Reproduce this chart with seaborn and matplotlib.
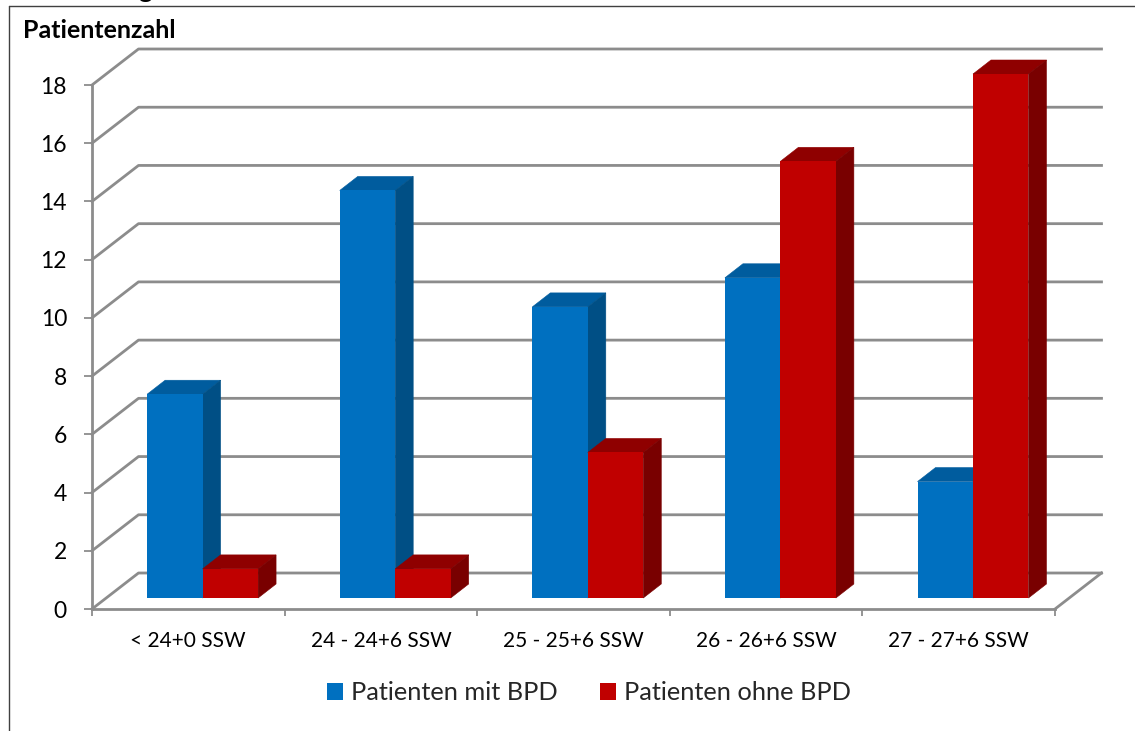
import matplotlib
matplotlib.use("Agg")
import matplotlib.pyplot as plt
from matplotlib.patches import Polygon
import pandas as pd
import seaborn as sns

# Patient counts per gestational-age group
groups = ["< 24+0 SSW", "24 - 24+6 SSW", "25 - 25+6 SSW", "26 - 26+6 SSW", "27 - 27+6 SSW"]
with_bpd = [7, 14, 10, 11, 4]
without_bpd = [1, 1, 5, 15, 18]
series_names = ["Patienten mit BPD", "Patienten ohne BPD"]
y_ticks = list(range(0, 20, 2))

front_colors = ["#0070C0", "#C00000"]
top_colors = ["#005C9E", "#8F0000"]
side_colors = ["#004F85", "#790000"]
grid_color = "#8C8C8C"
text_font = ["Lato", "DejaVu Sans"]

W, H = 1135, 731
sns.set_theme(style="white")
plt.rcParams["font.family"] = text_font
fig = plt.figure(figsize=(W / 100, H / 100), dpi=100, facecolor="white")


def axes_box(left, right, bottom, top):
    """Axes rectangle from pixel edges, measured from the top-left corner."""
    return [left / W, 1 - bottom / H, (right - left) / W, (bottom - top) / H]


# Front plane of the pseudo-3D chart: carries axis line, ticks and labels
ax = fig.add_axes(axes_box(92, 1055, 609, 85))
ax.set_xlim(-0.5, 4.5)
ax.set_ylim(0, 18)
ax.patch.set_alpha(0)
unit_x = 963 / 5
unit_y = 524 / 18

# Back wall and the connecting floor/wall lines
wall_dx = 46.5 / unit_x
wall_dy = 36 / unit_y
line_style = dict(color=grid_color, lw=2.0, clip_on=False, solid_capstyle="projecting")
for v in y_ticks:
    ax.plot([-0.5, -0.5 + wall_dx, 4.5 + wall_dx],
            [v, v + wall_dy, v + wall_dy], **line_style)
ax.plot([4.5, 4.5 + wall_dx], [0, wall_dy], **line_style)

for name in ("top", "right"):
    ax.spines[name].set_visible(False)
for name in ("left", "bottom"):
    ax.spines[name].set_color(grid_color)
    ax.spines[name].set_linewidth(2.0)

ax.set_yticks(y_ticks)
ax.set_xticks(range(len(groups)))
ax.set_xticklabels(groups, fontsize=15)
ax.set_xticks([i - 0.5 for i in range(len(groups) + 1)], minor=True)
ax.tick_params(axis="x", which="major", length=0, pad=16, colors="black")
ax.tick_params(axis="x", which="minor", length=5, width=1.3, color=grid_color, bottom=True)
ax.tick_params(axis="y", length=6, width=1.3, color=grid_color, left=True,
               labelsize=16.5, pad=12, labelcolor="black")
for lab in ax.get_yticklabels():
    lab.set_fontfamily(text_font)
ax.set_xlabel("")
ax.set_ylabel("")

# Bars stand slightly behind the front plane
bar_ax = fig.add_axes(axes_box(106.3, 1069.3, 598, 74))
bar_ax.patch.set_alpha(0)
df = pd.DataFrame({
    "Gruppe": groups * 2,
    "Patienten": with_bpd + without_bpd,
    "Status": [series_names[0]] * len(groups) + [series_names[1]] * len(groups),
})
sns.barplot(data=df, x="Gruppe", y="Patienten", hue="Status", hue_order=series_names,
            palette=front_colors, saturation=1, width=0.576, gap=0, linewidth=0, ax=bar_ax)
bar_ax.set_xlim(-0.5, 4.5)
bar_ax.set_ylim(0, 18)

# Extrude every bar: top and side faces are derived from its rectangle
depth_x = 18 / unit_x
depth_y = 14 / unit_y
order = 3
for s, container in enumerate(bar_ax.containers):
    for rect in container:
        x0, w, h = rect.get_x(), rect.get_width(), rect.get_height()
        x1 = x0 + w
        top = Polygon([(x0, h), (x1, h), (x1 + depth_x, h + depth_y), (x0 + depth_x, h + depth_y)],
                      closed=True, fc=top_colors[s], ec=top_colors[s], lw=0.4,
                      clip_on=False, zorder=order)
        side = Polygon([(x1, 0), (x1 + depth_x, depth_y), (x1 + depth_x, h + depth_y), (x1, h)],
                       closed=True, fc=side_colors[s], ec=side_colors[s], lw=0.4,
                       clip_on=False, zorder=order)
        bar_ax.add_patch(top)
        bar_ax.add_patch(side)
        rect.set_zorder(order + 0.5)
        rect.set_clip_on(False)
    order += 1

sns.move_legend(bar_ax, "center", bbox_to_anchor=(589 / W, 1 - 693 / H),
                bbox_transform=fig.transFigure, ncol=2, frameon=False, title=None,
                fontsize=18.3, handlelength=0.63, handleheight=0.63,
                handletextpad=0.31, columnspacing=1.7, borderpad=0, borderaxespad=0)
bar_ax.set_axis_off()

# Axis heading and the chart frame
fig.text(23 / W, 1 - 31 / H, "Patientenzahl", fontsize=18, fontweight="bold",
         va="center", ha="left", color="black", family=text_font)
fig.text(145 / W, 1 + 1.5 / H, "g", fontsize=19, fontweight="bold", va="baseline", ha="center",
         color="black", family=text_font)
frame = dict(color="#404040", lw=1.0, transform=fig.transFigure, clip_on=False)
fig.add_artist(plt.Line2D([8.5 / W, 8.5 / W], [0, 1 - 5.5 / H], **frame))
fig.add_artist(plt.Line2D([8.5 / W, 1], [1 - 5.5 / H, 1 - 5.5 / H], **frame))

fig.savefig("out.png", dpi=100, facecolor="white")
